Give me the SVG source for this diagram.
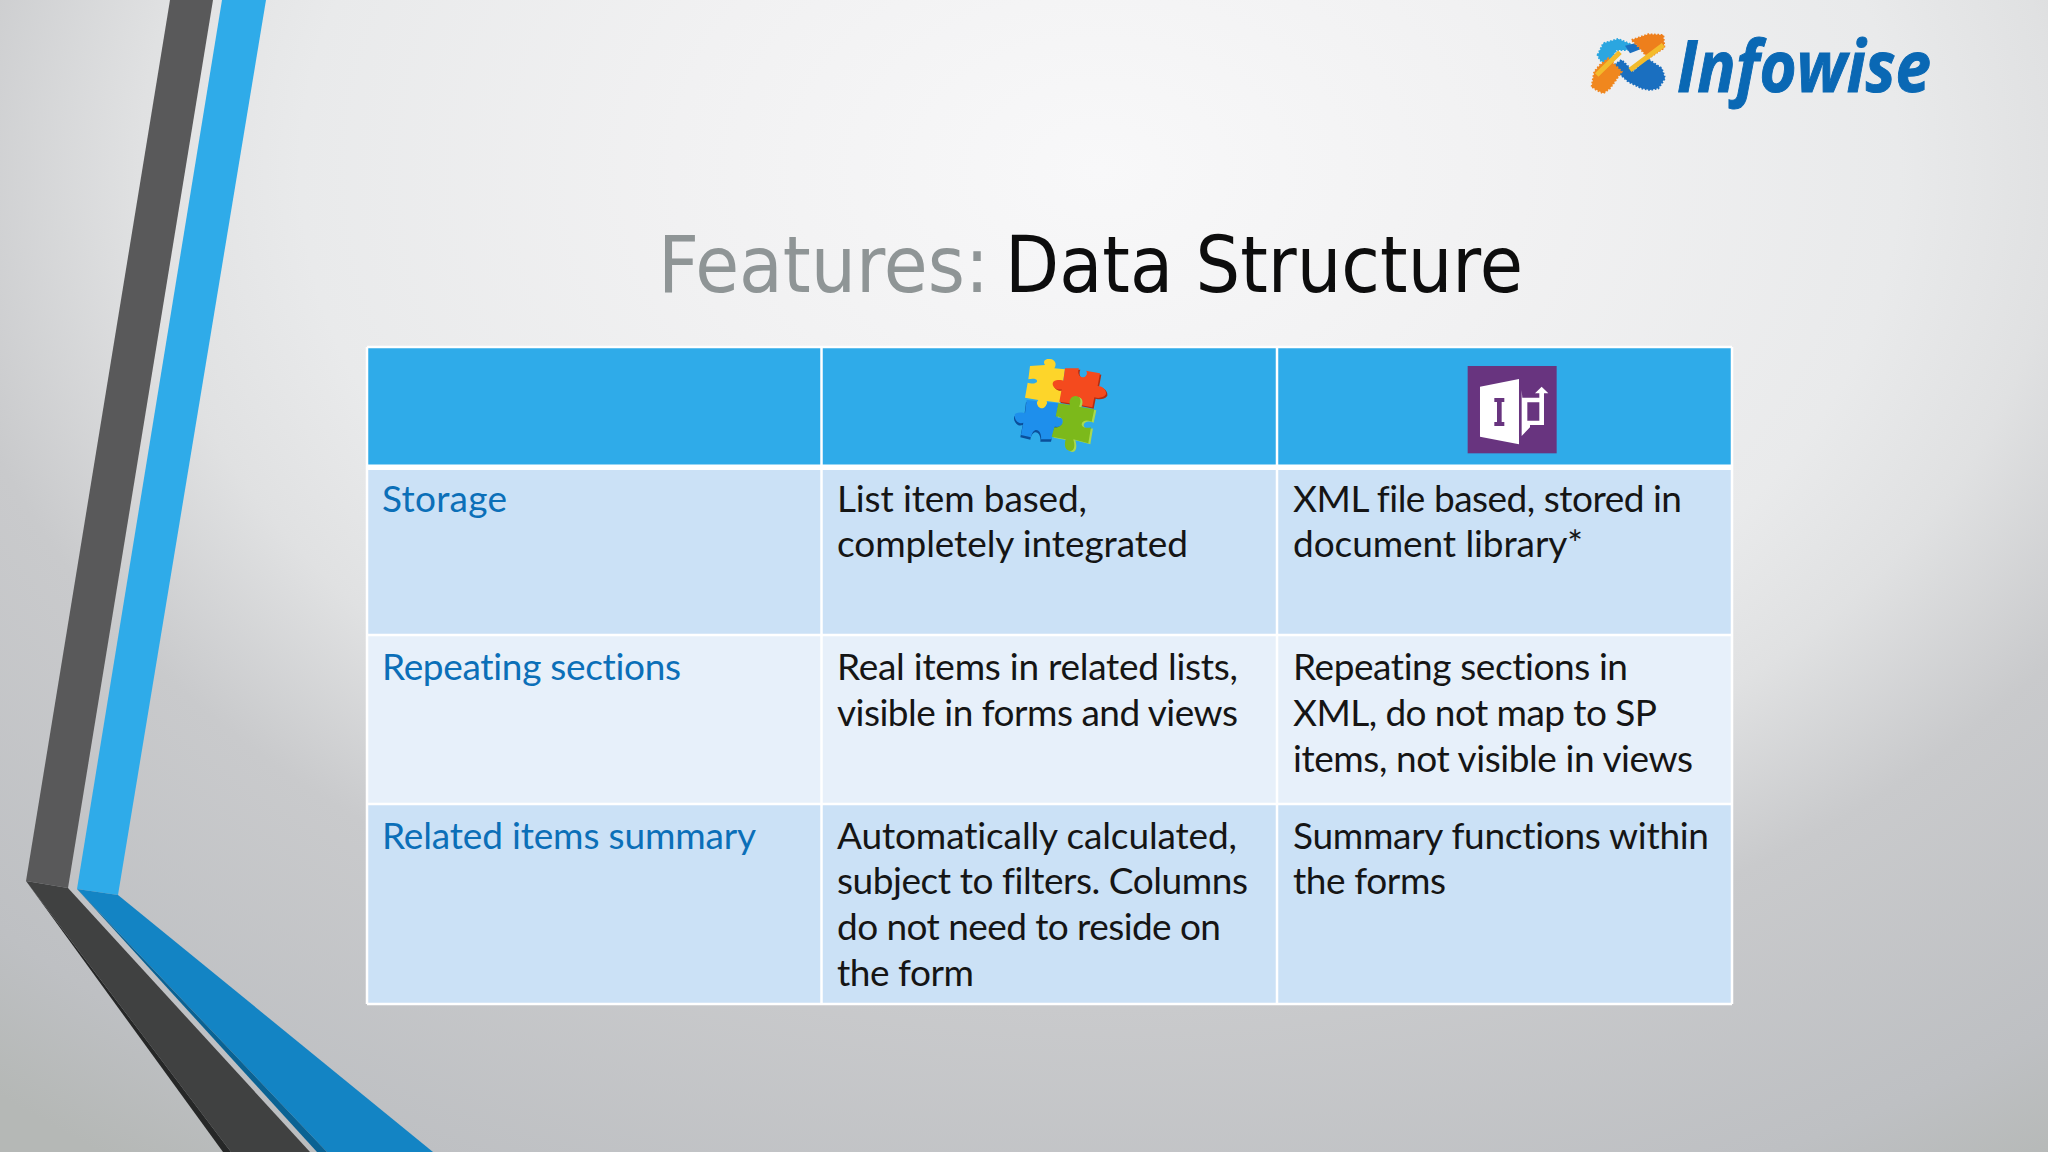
<svg xmlns="http://www.w3.org/2000/svg" width="2048" height="1152" viewBox="0 0 2048 1152">
<defs>
<radialGradient id="bg" gradientUnits="userSpaceOnUse" cx="1100" cy="170" r="1700" gradientTransform="translate(1100 170) scale(1 0.714) translate(-1100 -170)">
<stop offset="0" stop-color="#f8f8f9"/><stop offset="0.25" stop-color="#f1f1f2"/><stop offset="0.47" stop-color="#e9eaeb"/><stop offset="0.565" stop-color="#e0e1e2"/><stop offset="0.69" stop-color="#c9cacc"/><stop offset="0.9" stop-color="#bec0c3"/><stop offset="1" stop-color="#b5b8b6"/>
</radialGradient>
</defs>
<style>
text{font-family:"Lato","Open Sans",sans-serif;font-variant-ligatures:none}
.t{font-size:37px;fill:#151515}
.l{font-size:37px;fill:#0b6fb8}
.h{font-size:78px;font-family:"DejaVu Sans",sans-serif}
.c{stroke:#fff;stroke-width:2.5}
.j{stroke-width:6;stroke-dasharray:5 5}
</style>
<rect width="2048" height="1152" fill="url(#bg)"/>
<g id="ribbon">
<polygon points="170,0 213,0 68,888 26,881" fill="#59595a"/>
<polygon points="222,0 266,0 118,895 77,889" fill="#2fabe9"/>
<polygon points="26,881 68,888 310,1152 231,1152" fill="#404141"/>
<polygon points="26,881 231,1152 223,1152" fill="#262727"/>
<polygon points="77,889 118,895 433,1152 327,1152" fill="#1384c4"/>
<polygon points="77,889 327,1152 317,1152" fill="#0a6293"/>
</g>
<g id="title">
<text class="h" x="658" y="292" fill="#8f9596" textLength="331" lengthAdjust="spacingAndGlyphs">Features:</text>
<text class="h" x="1005" y="292" fill="#0d0d0d" textLength="518" lengthAdjust="spacingAndGlyphs">Data Structure</text>
</g>
<g id="logo">
<g transform="translate(1585 25) scale(0.3333)">
<polygon class="j" points="38,90 55,55 100,42 165,70 120,75 95,75 65,120 45,105" fill="#2ba6e0" stroke="#2ba6e0"/>
<polygon points="120,62 150,55 168,72 135,85" fill="#1a6fc0"/>
<polygon class="j" points="140,45 190,28 235,30 238,68 205,90 190,100 165,70 150,55" fill="#ee7f1c" stroke="#ee7f1c"/>
<polygon class="j" points="80,125 110,105 145,140 185,100 230,130 240,160 220,190 195,195 170,190 130,170" fill="#1a6fc0" stroke="#1a6fc0"/>
<polygon class="j" points="20,185 28,140 45,120 70,100 110,140 75,190 55,205 35,195" fill="#f0871e" stroke="#f0871e"/>
<path d="M35,150L105,82M135,135L235,60" fill="none" stroke="#f3bb2c" stroke-width="15"/>
</g>
<text x="1677" y="92" font-size="72" font-weight="700" font-style="italic" fill="#0a68b4" stroke="#0a68b4" stroke-width="1" style="font-family:'Open Sans',sans-serif" textLength="254" lengthAdjust="spacingAndGlyphs">Infowise</text>
</g>
<g id="table">
<rect x="367" y="347" width="1365" height="118" fill="#2fabe9"/>
<rect x="367" y="470" width="1365" height="165" fill="#cbe1f6"/>
<rect x="367" y="635" width="1365" height="169" fill="#e7f0fa"/>
<rect x="367" y="804" width="1365" height="200" fill="#cbe1f6"/>
<path class="c" d="M367,347H1732M367,635H1732M367,804H1732M367,1004H1732M367,347V1004M821.500,347V1004M1277,347V1004M1732,347V1004" fill="none"/>
<rect x="367" y="464.500" width="1365" height="5.500" fill="#fff"/>
</g>
<g id="puzzle" transform="translate(1005 350) scale(0.3333)">
<path d="M75,48L120,45C112,32 122,25 135,27C150,28 157,42 148,55L180,58L165,158L125,153C130,170 122,183 108,183C92,180 90,165 100,150L60,143L68,98C78,103 98,100 96,92C95,85 80,85 70,88Z" fill="#fdd52a"/>
<path transform="translate(-2 7)" d="M65,150L95,153C95,178 120,185 127,157L160,160L152,200C170,195 178,215 170,225C160,235 150,228 148,232L140,268L108,268C112,240 85,225 78,262L48,255L55,218C38,225 25,205 30,192C40,185 55,188 60,190Z" fill="#0b4f9a"/>
<path d="M65,150L95,153C95,178 120,185 127,157L160,160L152,200C170,195 178,215 170,225C160,235 150,228 148,232L140,268L108,268C112,240 85,225 78,262L48,255L55,218C38,225 25,205 30,192C40,185 55,188 60,190Z" fill="#1e8fec"/>
<path transform="translate(4 4)" d="M180,55L222,55C215,70 225,88 240,80C250,72 245,62 242,62L285,70L278,108C290,108 305,118 303,133C295,145 280,145 268,142L262,172L225,165C225,140 200,135 195,160L163,155L170,118C150,122 138,105 145,95C155,88 172,90 175,92Z" fill="#b32c10"/>
<path d="M180,55L222,55C215,70 225,88 240,80C250,72 245,62 242,62L285,70L278,108C290,108 305,118 303,133C295,145 280,145 268,142L262,172L225,165C225,140 200,135 195,160L163,155L170,118C150,122 138,105 145,95C155,88 172,90 175,92Z" fill="#f44a1e"/>
<path transform="translate(6 3)" d="M160,160L195,165C190,150 200,137 213,138C228,140 230,155 222,170L268,178L260,215C245,208 232,212 230,222C230,235 250,235 258,232L250,280L205,268C210,285 210,303 195,303C178,300 178,285 182,268L140,260L148,232C165,235 178,220 172,208C165,198 155,200 152,200Z" fill="#a9d94f"/>
<path d="M160,160L195,165C190,150 200,137 213,138C228,140 230,155 222,170L268,178L260,215C245,208 232,212 230,222C230,235 250,235 258,232L250,280L205,268C210,285 210,303 195,303C178,300 178,285 182,268L140,260L148,232C165,235 178,220 172,208C165,198 155,200 152,200Z" fill="#7cb91b"/>
</g>
<g id="infopath" transform="translate(1440 340) scale(0.3333)">
<rect x="83" y="78" width="267" height="262" fill="#68347f"/>
<polygon points="120,140 237,117 237,313 120,290" fill="#fff"/>
<path d="M163,174H193V186H185V246H193V258H163V246H171V186H163Z" fill="#68347f"/>
<path d="M245,150V288L270,262V255H312V160H325L305,140L285,160H298V242H262V187H298V173H247Z" fill="#fff"/>
</g>
<g id="cells">
<text class="l" x="382" y="512" textLength="125">Storage</text>
<text class="l" x="382" y="680" textLength="299">Repeating sections</text>
<text class="l" x="382" y="849" textLength="374">Related items summary</text>
<text class="t" x="837" y="512" textLength="250">List item based,</text>
<text class="t" x="837" y="557" textLength="351">completely integrated</text>
<text class="t" x="837" y="680" textLength="401">Real items in related lists,</text>
<text class="t" x="837" y="726" textLength="401">visible in forms and views</text>
<text class="t" x="837" y="849" textLength="400">Automatically calculated,</text>
<text class="t" x="837" y="894" textLength="411">subject to filters. Columns</text>
<text class="t" x="837" y="940" textLength="384">do not need to reside on</text>
<text class="t" x="837" y="986" textLength="137">the form</text>
<text class="t" x="1293" y="512" textLength="389">XML file based, stored in</text>
<text class="t" x="1293" y="557" textLength="290">document library*</text>
<text class="t" x="1293" y="680" textLength="335">Repeating sections in</text>
<text class="t" x="1293" y="726" textLength="364">XML, do not map to SP</text>
<text class="t" x="1293" y="772" textLength="400">items, not visible in views</text>
<text class="t" x="1293" y="849" textLength="416">Summary functions within</text>
<text class="t" x="1293" y="894" textLength="153">the forms</text>
</g>
</svg>
